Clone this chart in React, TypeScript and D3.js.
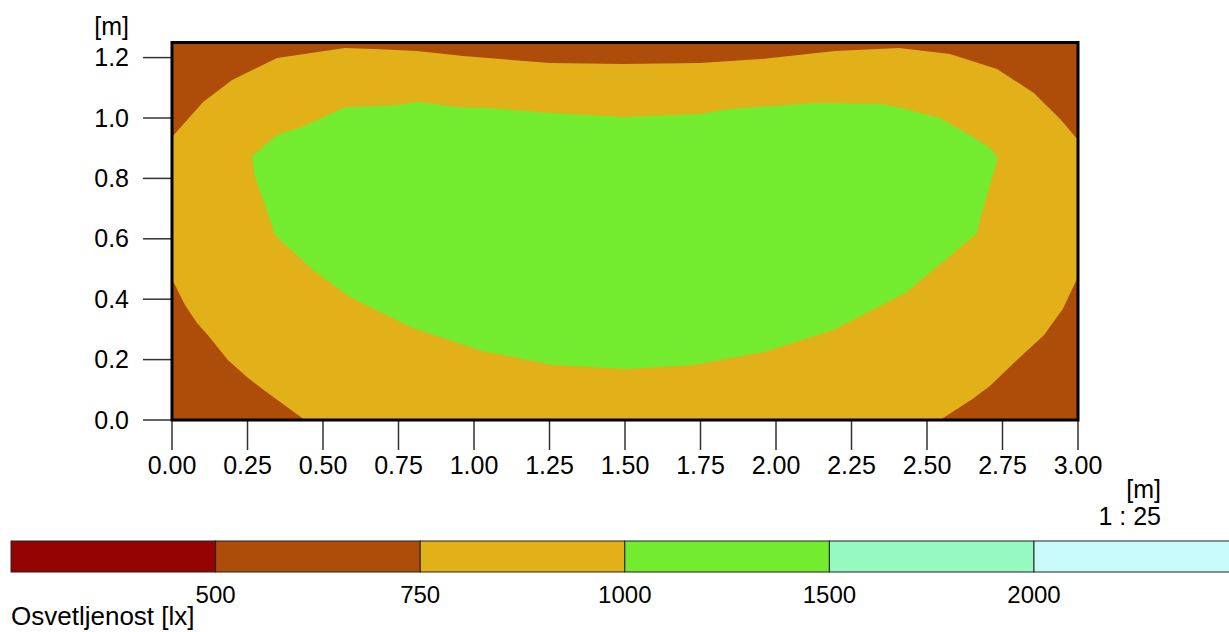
import React from 'react';
import * as d3 from 'd3';

const WIDTH = 1229;
const HEIGHT = 632;
const X_RANGE = [172, 1078];
const Y_RANGE = [420, 42.5];

const X_TICKS = [0, 0.25, 0.5, 0.75, 1, 1.25, 1.5, 1.75, 2, 2.25, 2.5, 2.75, 3];
const Y_TICKS = [0, 0.2, 0.4, 0.6, 0.8, 1.0, 1.2];

// isoline >= 750 lx (meters)
const ZONE_750: [number, number][] = [
  [0.0, 0.937], [0.103, 1.053], [0.199, 1.126], [0.348, 1.199], [0.573, 1.232],
  [0.689, 1.228], [0.811, 1.222], [0.964, 1.205], [1.252, 1.182], [1.493, 1.179],
  [1.748, 1.182], [1.95, 1.195], [2.195, 1.222], [2.407, 1.232], [2.576, 1.212],
  [2.732, 1.162], [2.854, 1.083], [2.944, 0.993], [3.0, 0.927], [3.0, 0.474],
  [2.95, 0.368], [2.887, 0.281], [2.798, 0.199], [2.709, 0.113], [2.652, 0.07],
  [2.543, 0.0], [0.44, 0.0], [0.381, 0.043], [0.308, 0.096], [0.252, 0.139],
  [0.185, 0.199], [0.119, 0.281], [0.083, 0.321], [0.043, 0.381], [0.01, 0.447],
  [0.0, 0.464],
];

// isoline >= 1000 lx (meters)
const ZONE_1000: [number, number][] = [
  [0.265, 0.874], [0.275, 0.805], [0.325, 0.662], [0.338, 0.619], [0.351, 0.603],
  [0.467, 0.497], [0.589, 0.407], [0.689, 0.358], [0.798, 0.305], [1.03, 0.228],
  [1.262, 0.182], [1.507, 0.169], [1.725, 0.182], [1.96, 0.225], [2.189, 0.298],
  [2.43, 0.421], [2.666, 0.619], [2.675, 0.662], [2.735, 0.868], [2.709, 0.901],
  [2.652, 0.937], [2.543, 1.0], [2.407, 1.036], [2.351, 1.046], [2.132, 1.05],
  [1.848, 1.03], [1.748, 1.013], [1.493, 1.003], [1.242, 1.017], [1.053, 1.033],
  [0.954, 1.036], [0.811, 1.053], [0.745, 1.043], [0.573, 1.036], [0.43, 0.97],
  [0.348, 0.944],
];

const LEGEND_BREAKS = [500, 750, 1000, 1500, 2000];
const LEGEND_COLORS = ['#960303', '#ae4c0a', '#e2b11a', '#73ec2f', '#96f9c2', '#c8fafc'];

const BG_COLOR = '#ae4c0a';
const FONT = '"Liberation Sans", Arial, Helvetica, sans-serif';

export default function App() {
  const x = d3.scaleLinear().domain([0, 3]).range(X_RANGE);
  const y = d3.scaleLinear().domain([0, 1.25]).range(Y_RANGE);
  const line = d3
    .line<[number, number]>()
    .x((d) => x(d[0]))
    .y((d) => y(d[1]));

  const legX = d3.scaleLinear().domain([0, 6]).range([11, 11 + 6 * 204.6]);
  const legTop = 541;
  const legH = 31;

  return (
    <svg
      width={WIDTH}
      height={HEIGHT}
      style={{ position: 'absolute', left: 0, top: 0, fontFamily: FONT }}
    >
      <rect x={0} y={0} width={WIDTH} height={HEIGHT} fill="#fff" />
      <defs>
        <clipPath id="plot-clip">
          <rect x={X_RANGE[0]} y={Y_RANGE[1]} width={X_RANGE[1] - X_RANGE[0]} height={Y_RANGE[0] - Y_RANGE[1]} />
        </clipPath>
      </defs>
      <g clipPath="url(#plot-clip)">
        <rect x={X_RANGE[0]} y={Y_RANGE[1]} width={X_RANGE[1] - X_RANGE[0]} height={Y_RANGE[0] - Y_RANGE[1]} fill={BG_COLOR} />
        <path d={line(ZONE_750) + 'Z'} fill="#e2b11a" />
        <path d={line(ZONE_1000) + 'Z'} fill="#73ec2f" />
      </g>

      {/* y axis */}
      {Y_TICKS.map((t) => (
        <g key={`y-${t}`}>
          <line x1={143} x2={X_RANGE[0]} y1={y(t)} y2={y(t)} stroke="#333" strokeWidth={1.5} />
          <text x={129} y={y(t) + 8.6} textAnchor="end" fontSize={25}>
            {t.toFixed(1)}
          </text>
        </g>
      ))}
      <text x={129} y={35} textAnchor="end" fontSize={25}>[m]</text>

      {/* x axis */}
      {X_TICKS.map((t) => (
        <g key={`x-${t}`}>
          <line x1={x(t)} x2={x(t)} y1={Y_RANGE[0]} y2={450} stroke="#333" strokeWidth={1.5} />
          <text x={x(t)} y={474} textAnchor="middle" fontSize={25}>
            {t.toFixed(2)}
          </text>
        </g>
      ))}
      <text x={1161} y={498} textAnchor="end" fontSize={25}>[m]</text>
      <text x={1161} y={525} textAnchor="end" fontSize={25}>1 : 25</text>

      {/* frame */}
      <rect
        x={X_RANGE[0]}
        y={Y_RANGE[1]}
        width={X_RANGE[1] - X_RANGE[0]}
        height={Y_RANGE[0] - Y_RANGE[1]}
        fill="none"
        stroke="#000"
        strokeWidth={3}
      />

      {/* legend */}
      {LEGEND_COLORS.map((c, i) => (
        <rect
          key={`leg-${i}`}
          x={legX(i)}
          y={legTop}
          width={legX(i + 1) - legX(i)}
          height={legH}
          fill={c}
          stroke="#222"
          strokeWidth={1}
        />
      ))}
      {LEGEND_BREAKS.map((b, i) => (
        <text key={`lb-${b}`} x={legX(i + 1)} y={603} textAnchor="middle" fontSize={24}>
          {b}
        </text>
      ))}
      <text x={11} y={625} fontSize={26}>Osvetljenost [lx]</text>
    </svg>
  );
}
